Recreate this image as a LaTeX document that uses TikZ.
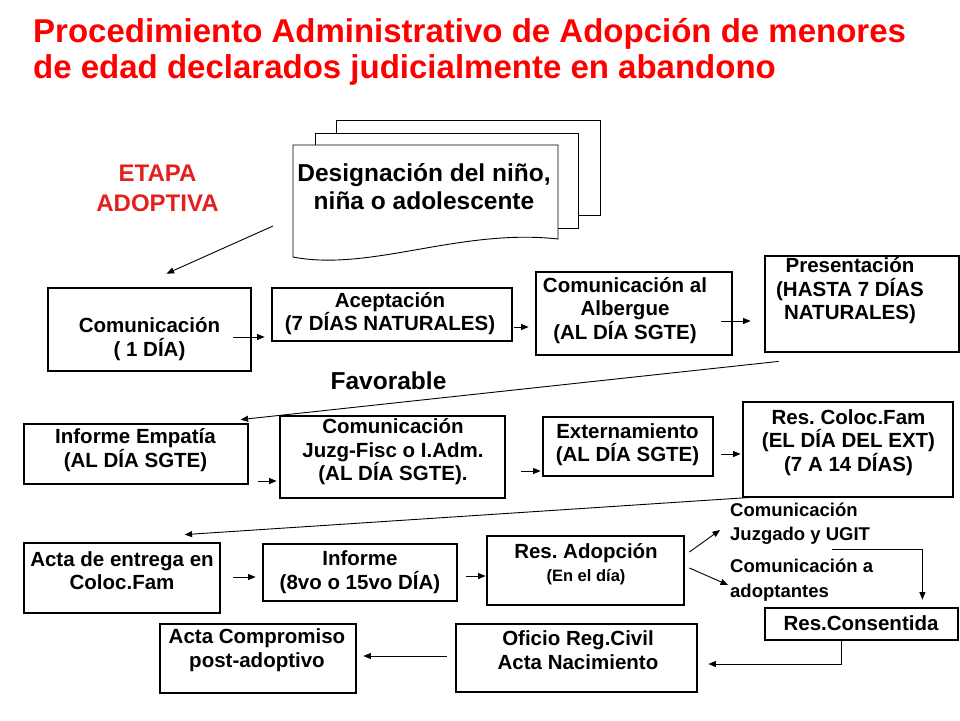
\documentclass[tikz,border=0pt]{standalone}
\usepackage{fontspec}
\setmainfont{Liberation Sans}
\usetikzlibrary{arrows.meta}
\definecolor{titlered}{RGB}{255,0,0}
\definecolor{etapared}{RGB}{228,32,30}
\frenchspacing
\begin{document}
\begin{tikzpicture}[x=1pt,y=-1pt,
    box/.style={draw=black,line width=2.8pt,fill=white},
    txt/.style={align=center,font=\bfseries\fontsize{20.5}{23.5}\selectfont},
    note/.style={align=left,anchor=west,font=\bfseries\fontsize{18.5}{24.5}\selectfont},
    arr/.style={line width=0.9pt,-{Triangle[length=7.5pt,width=6pt]}},
    page/.style={draw=black,line width=0.9pt,fill=white}]
\tikzstyle{every node}+=[inner sep=0pt]
\useasboundingbox (0,0) rectangle (960,720);
% title
\node[anchor=north west,align=left,text=titlered,font=\bfseries\fontsize{33}{36}\selectfont] (title) at (33,18)
  {Procedimiento Administrativo de Adopción de menores\\de edad declarados judicialmente en abandono};
\node[align=center,text=etapared,font=\bfseries\fontsize{24}{30}\selectfont] (etapa) at (157.5,188) {ETAPA\\ADOPTIVA};
% stacked pages
\draw[page] (336,120) rectangle (600,215);
\draw[page] (315,133) rectangle (578,228);
\draw[page] (293,145) -- (558,145) -- (558,239) .. controls (460,228) and (370,272) .. (293,257) -- cycle;
\node[align=center,font=\bfseries\fontsize{24.5}{28}\selectfont] (desig) at (424,187) {Designación del niño,\\niña o adolescente};
% row 1
\node[box,minimum width=203pt,minimum height=83pt] (com1) at (149.5,329.5) {};
\node[txt] (com1-t) at (149.5,339) {Comunicación\\( 1 DÍA)};
\node[box,minimum width=240pt,minimum height=53pt] (acep) at (392,314.5) {};
\node[txt] (acep-t) at (390,313.5) {Aceptación\\(7 DÍAS NATURALES)};
\node[box,minimum width=196pt,minimum height=83pt] (albe) at (634,313.5) {};
\node[txt] (albe-t) at (625,310.5) {Comunicación al\\Albergue\\(AL DÍA SGTE)};
\node[box,minimum width=194pt,minimum height=96pt] (pres) at (862,304) {};
\node[txt] (pres-t) at (850,291) {Presentación\\(HASTA 7 DÍAS\\NATURALES)};
\node[font=\bfseries\fontsize{24.5}{28}\selectfont] (fav) at (388.5,381) {Favorable};
% row 2
\node[box,minimum width=224pt,minimum height=60pt] (emp) at (136,454) {};
\node[txt] (emp-t) at (135.5,450) {Informe Empatía\\(AL DÍA SGTE)};
\node[box,minimum width=225pt,minimum height=82pt] (juzg) at (392.5,457) {};
\node[txt] (juzg-t) at (393,452) {Comunicación\\Juzg-Fisc o I.Adm.\\(AL DÍA SGTE).};
\node[box,minimum width=170pt,minimum height=59pt] (ext) at (628,446.5) {};
\node[txt] (ext-t) at (627.5,444.5) {Externamiento\\(AL DÍA SGTE)};
\node[box,minimum width=210pt,minimum height=95pt] (resc) at (848,449.5) {};
\node[txt] (resc-t) at (848.5,442.5) {Res. Coloc.Fam\\(EL DÍA DEL EXT)\\(7 A 14 DÍAS)};
% row 3
\node[box,minimum width=196pt,minimum height=70pt] (acta) at (122,578) {};
\node[txt] (acta-t) at (122,570.5) {Acta de entrega en\\Coloc.Fam};
\node[box,minimum width=194pt,minimum height=57pt] (inf) at (360,572.5) {};
\node[txt] (inf-t) at (360,572) {Informe\\(8vo o 15vo DÍA)};
\node[box,minimum width=197pt,minimum height=69pt] (resa) at (585.5,570.5) {};
\node[txt] (resa-t) at (586,564) {Res. Adopción\\{\fontsize{16.5}{23.5}\selectfont (En el día)}};
\node[note] (jz) at (730,523.5) {Comunicación\\Juzgado y UGIT};
\node[note] (adop) at (730,580) {Comunicación a\\adoptantes};
\node[box,minimum width=193pt,minimum height=32pt] (cons) at (861.5,624) {};
\node[txt] (cons-t) at (861,623) {Res.Consentida};
% row 4
\node[box,minimum width=241pt,minimum height=68pt] (ofic) at (576.5,658) {};
\node[txt] (ofic-t) at (578,650) {Oficio Reg.Civil\\Acta Nacimiento};
\node[box,minimum width=196pt,minimum height=69pt] (comp) at (258,658.5) {};
\node[txt] (comp-t) at (257,650) {Acta Compromiso\\post-adoptivo};
% connectors
\draw[arr] ([shift={(-151,39)}]desig.center) -- ([shift={(120,-13)}]com1.north west);
\draw[arr] ([shift={(-19,7.5)}]com1.east) coordinate (p) -- ([xshift=-6pt]p -| acep.west);
\draw[arr] ([shift={(1,12.5)}]acep.east) coordinate (p) -- ([xshift=-6pt]p -| albe.west);
\draw[arr] ([shift={(-12,7.5)}]albe.east) coordinate (p) -- ([xshift=-13pt]p -| pres.west);
\draw[arr] ([shift={(15,8)}]pres.south west) -- ([shift={(218,-3)}]emp.north west);
\draw[arr] ([shift={(9,27)}]emp.east) coordinate (p) -- ([xshift=-2pt]p -| juzg.west);
\draw[arr] ([shift={(15,14)}]juzg.east) coordinate (p) -- ([xshift=-1pt]p -| ext.west);
\draw[arr] ([shift={(7,7.5)}]ext.east) coordinate (p) -- ([xshift=-1pt]p -| resc.west);
\draw[arr] ([shift={(9,-1)}]resc.south west) -- ([shift={(162,-7)}]acta.north west);
\draw[arr] ([shift={(12,-1)}]acta.east) coordinate (p) -- ([xshift=-6pt]p -| inf.west);
\draw[arr] ([shift={(8,3.5)}]inf.east) coordinate (p) -- (p -| resa.west);
\draw[arr] ([shift={(4,-18.5)}]resa.east) -- ([shift={(-10,6.5)}]jz.west);
\draw[arr] ([shift={(4,-2.5)}]resa.east) -- ([shift={(-2,5)}]adop.west);
\draw[arr] ([shift={(102,5)}]jz.south west) -| ([shift={(-37,-7)}]cons.north east);
\draw[arr] ([xshift=-20.5pt]cons.south) |- ([shift={(10,6)}]ofic.east);
\draw[arr] ([shift={(-8,-2)}]ofic.west) coordinate (p) -- ([xshift=6pt]p -| comp.east);
\end{tikzpicture}
\end{document}
